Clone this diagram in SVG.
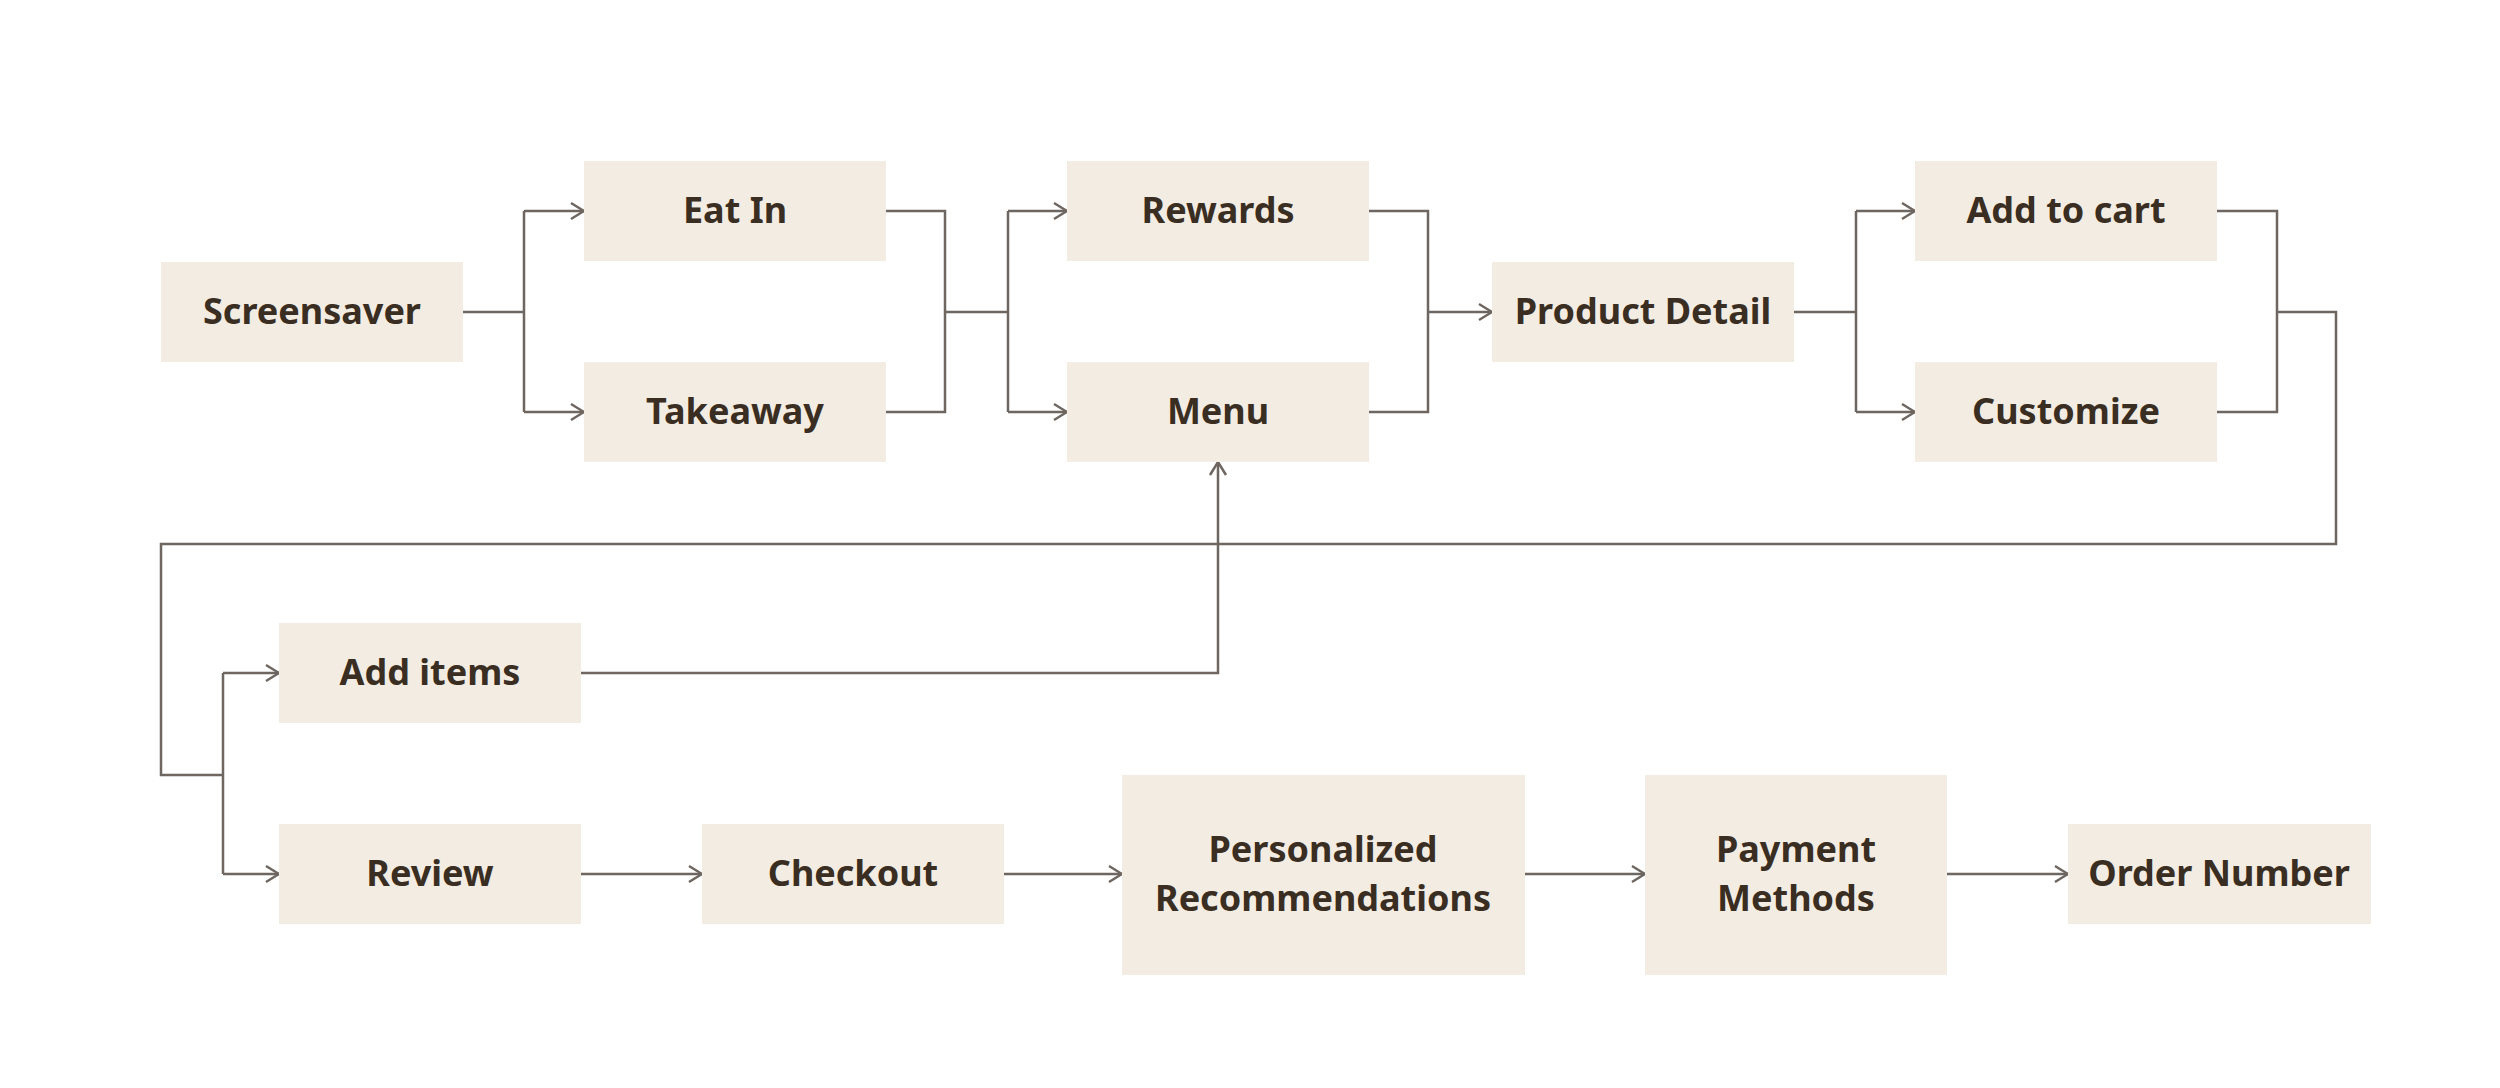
<svg xmlns="http://www.w3.org/2000/svg" width="2500" height="1088" viewBox="0 0 2500 1088">
<style>
.b{fill:#F3ECE2}
.t{font-family:"Noto Sans","Open Sans",sans-serif;font-weight:700;font-size:36px;fill:#3A2E22;text-anchor:middle;dominant-baseline:central}
.c{fill:none;stroke:#6E6660;stroke-width:2.5}
</style>
<defs>
<marker id="a" viewBox="0 0 20 20" refX="19" refY="10" markerWidth="20" markerHeight="20" markerUnits="userSpaceOnUse" orient="auto">
<path d="M6,2 L19,10 L6,18" fill="none" stroke="#6E6660" stroke-width="2.5"/>
</marker>
</defs>
<rect width="2500" height="1088" fill="#fff"/>
<g id="connectors" class="c">
<path d="M462,312 H524 M524,211 V412"/>
<path d="M524,211 H584" marker-end="url(#a)"/>
<path d="M524,412 H584" marker-end="url(#a)"/>
<path d="M885,211 H945 V412 H885 M945,312 H1008 M1008,211 V412"/>
<path d="M1008,211 H1067" marker-end="url(#a)"/>
<path d="M1008,412 H1067" marker-end="url(#a)"/>
<path d="M1368,211 H1428 V412 H1368"/>
<path d="M1428,312 H1492" marker-end="url(#a)"/>
<path d="M1794,312 H1856 M1856,211 V412"/>
<path d="M1856,211 H1915" marker-end="url(#a)"/>
<path d="M1856,412 H1915" marker-end="url(#a)"/>
<path d="M2216,211 H2277 V412 H2216 M2277,312 H2336 V544 H161 V775 H223 M223,673 V874"/>
<path d="M223,673 H279" marker-end="url(#a)"/>
<path d="M223,874 H279" marker-end="url(#a)"/>
<path d="M580,673 H1218 V462" marker-end="url(#a)"/>
<path d="M580,874 H702" marker-end="url(#a)"/>
<path d="M1003,874 H1122" marker-end="url(#a)"/>
<path d="M1524,874 H1645" marker-end="url(#a)"/>
<path d="M1947,874 H2068" marker-end="url(#a)"/>
</g>
<g id="screensaver"><rect class="b" x="161" y="262" width="302" height="100"/><text class="t" x="312" y="310">Screensaver</text></g>
<g id="eatin"><rect class="b" x="584" y="161" width="302" height="100"/><text class="t" x="735" y="209">Eat In</text></g>
<g id="takeaway"><rect class="b" x="584" y="362" width="302" height="100"/><text class="t" x="735" y="410">Takeaway</text></g>
<g id="rewards"><rect class="b" x="1067" y="161" width="302" height="100"/><text class="t" x="1218" y="209">Rewards</text></g>
<g id="menu"><rect class="b" x="1067" y="362" width="302" height="100"/><text class="t" x="1218" y="410">Menu</text></g>
<g id="productdetail"><rect class="b" x="1492" y="262" width="302" height="100"/><text class="t" x="1643" y="310">Product Detail</text></g>
<g id="addtocart"><rect class="b" x="1915" y="161" width="302" height="100"/><text class="t" x="2066" y="209">Add to cart</text></g>
<g id="customize"><rect class="b" x="1915" y="362" width="302" height="100"/><text class="t" x="2066" y="410">Customize</text></g>
<g id="additems"><rect class="b" x="279" y="623" width="302" height="100"/><text class="t" x="430" y="671">Add items</text></g>
<g id="review"><rect class="b" x="279" y="824" width="302" height="100"/><text class="t" x="430" y="872">Review</text></g>
<g id="checkout"><rect class="b" x="702" y="824" width="302" height="100"/><text class="t" x="853" y="872">Checkout</text></g>
<g id="personalized"><rect class="b" x="1122" y="775" width="403" height="200"/><text class="t" x="1323" y="848">Personalized</text><text class="t" x="1323" y="897">Recommendations</text></g>
<g id="payment"><rect class="b" x="1645" y="775" width="302" height="200"/><text class="t" x="1796" y="848">Payment</text><text class="t" x="1796" y="897">Methods</text></g>
<g id="ordernumber"><rect class="b" x="2068" y="824" width="303" height="100"/><text class="t" x="2219" y="872">Order Number</text></g>
</svg>
